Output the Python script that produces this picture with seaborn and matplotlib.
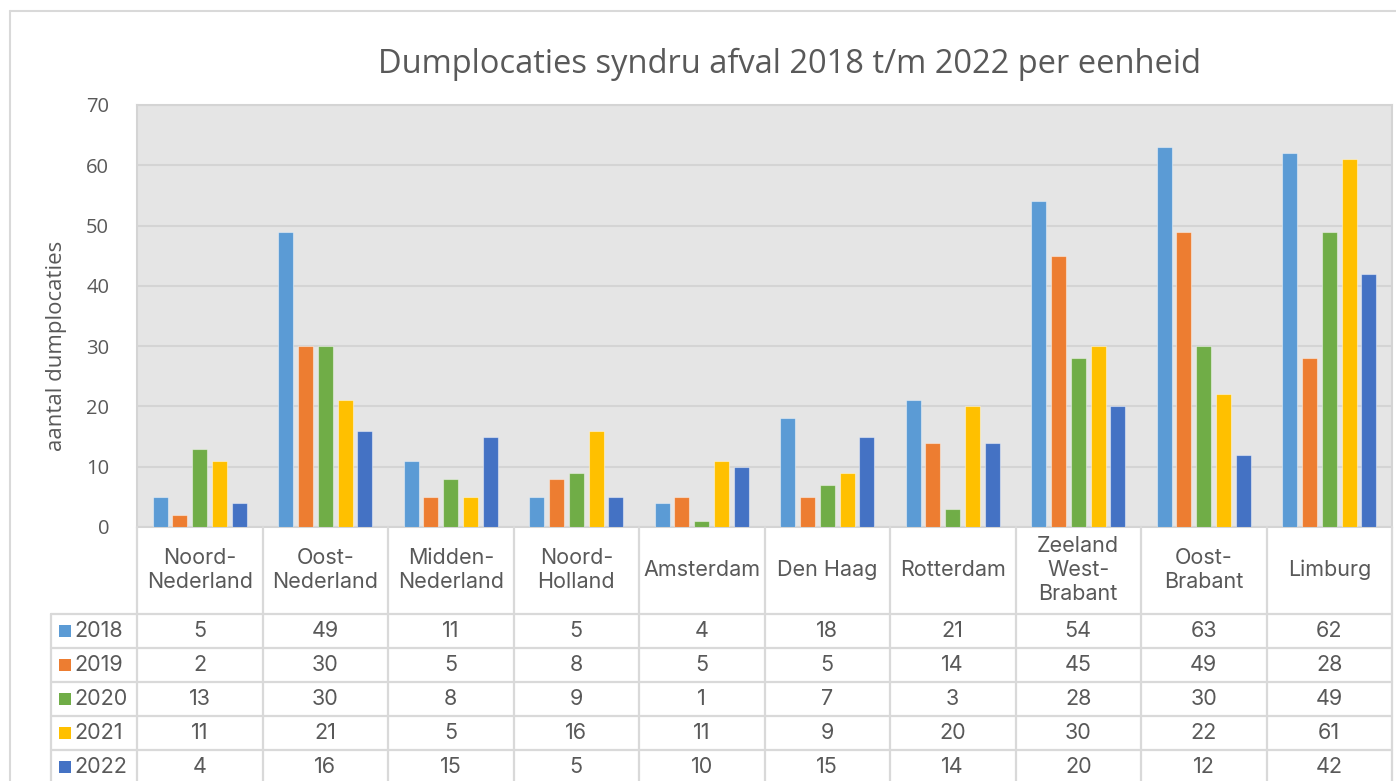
import matplotlib.pyplot as plt
import pandas as pd
import seaborn as sns
from matplotlib.lines import Line2D
from matplotlib.patches import Rectangle
from matplotlib.transforms import blended_transform_factory


REGIONS = [
    "Noord-\nNederland", "Oost-\nNederland", "Midden-\nNederland", "Noord-\nHolland",
    "Amsterdam", "Den Haag", "Rotterdam", "Zeeland\nWest-\nBrabant", "Oost-\nBrabant", "Limburg",
]
YEARS = ["2018", "2019", "2020", "2021", "2022"]
COUNTS_2018 = [5, 49, 11, 5, 4, 18, 21, 54, 63, 62]
COUNTS_2019 = [2, 30, 5, 8, 5, 5, 14, 45, 49, 28]
COUNTS_2020 = [13, 30, 8, 9, 1, 7, 3, 28, 30, 49]
COUNTS_2021 = [11, 21, 5, 16, 11, 9, 20, 30, 22, 61]
COUNTS_2022 = [4, 16, 15, 5, 10, 15, 14, 20, 12, 42]
COLORS = ["#5B9BD5", "#ED7D31", "#70AD47", "#FFC000", "#4472C4"]

W, H = 1396, 781
TEXT = "#595959"
LINE = "#d9d9d9"
TABLE_SIZE = 15.5

sns.set_theme(style="white")
plt.rcParams["font.family"] = ["Open Sans", "DejaVu Sans"]


def fx(px):
    return px / W


def fy(py):
    return 1 - py / H


def build_frame() -> pd.DataFrame:
    series = [COUNTS_2018, COUNTS_2019, COUNTS_2020, COUNTS_2021, COUNTS_2022]
    rows = []
    for year, counts in zip(YEARS, series):
        for region, count in zip(REGIONS, counts):
            rows.append({"region": region, "year": year, "count": count})
    return pd.DataFrame(rows)


def draw_table(fig, ax, df):
    trans = blended_transform_factory(ax.transData, fig.transFigure)
    n = len(REGIONS)
    table_font = ["Inter", "DejaVu Sans"]

    # column separators
    for i in range(n + 1):
        fig.add_artist(Line2D([i - 0.5, i - 0.5], [fy(527), 0], transform=trans, color=LINE, lw=1.6))
    # left border of legend column
    fig.add_artist(Line2D([fx(51), fx(51)], [fy(614), 0], transform=fig.transFigure, color=LINE, lw=1.6))
    right = fig.transFigure.inverted().transform(ax.transData.transform((n - 0.5, 0)))[0]
    for py in [614, 648, 682, 716, 750]:
        fig.add_artist(Line2D([fx(51), right], [fy(py), fy(py)], transform=fig.transFigure, color=LINE, lw=1.6))

    # header with region names
    for i, region in enumerate(REGIONS):
        fig.text(i, fy(570), region, transform=trans, ha="center", va="center",
                 fontsize=TABLE_SIZE, color=TEXT, linespacing=1.25, family=table_font)

    # value rows
    for r, year in enumerate(YEARS):
        cy = 631 + r * 34
        fig.add_artist(Rectangle((fx(59), fy(cy + 6)), fx(12), 12 / H, transform=fig.transFigure,
                                 facecolor=COLORS[r], edgecolor="none"))
        fig.text(fx(74), fy(cy), year, ha="left", va="center", fontsize=TABLE_SIZE, color=TEXT, family=table_font)
        values = df[df["year"] == year].set_index("region").loc[REGIONS, "count"]
        for i, v in enumerate(values):
            fig.text(i, fy(cy), str(v), transform=trans, ha="center", va="center",
                     fontsize=TABLE_SIZE, color=TEXT, family=table_font)


def main() -> None:
    df = build_frame()
    fig = plt.figure(figsize=(W / 100, H / 100), dpi=100)
    ax = fig.add_axes([fx(137), fy(527), fx(1392) - fx(137), fy(105) - fy(527)])
    ax.set_facecolor("#e5e5e5")

    sns.barplot(data=df, x="region", y="count", hue="year", order=REGIONS, hue_order=YEARS,
                palette=COLORS, saturation=1, width=0.79, gap=0.24, ax=ax, legend=False,
                edgecolor=(1, 1, 1, 0.45), linewidth=0.8, zorder=3)

    ax.set_xlim(-0.5, len(REGIONS) - 0.5)
    ax.set_ylim(0, 70)
    ax.set_yticks(range(0, 71, 10))
    ax.yaxis.grid(True, color="#d4d4d4", lw=1.5, zorder=0)
    ax.set_axisbelow(True)
    ax.tick_params(axis="x", bottom=False, labelbottom=False)
    ax.tick_params(axis="y", length=0, pad=20, labelsize=14.5, labelcolor=TEXT)
    ax.set_xlabel("")
    ax.set_ylabel("aantal dumplocaties", fontsize=16, color=TEXT)
    # the axis title sits a little below the middle of the plot area
    ax.yaxis.set_label_coords(-0.056, 0.43)
    for spine in ax.spines.values():
        spine.set_color("#d4d4d4")
        spine.set_linewidth(1.5)

    fig.text(fx(790), fy(64), "Dumplocaties syndru afval 2018 t/m 2022 per eenheid",
             ha="center", va="center", fontsize=23.5, color=TEXT)

    # chart area border
    fig.add_artist(Line2D([fx(10), fx(10)], [0, fy(11)], transform=fig.transFigure, color=LINE, lw=1.5))
    fig.add_artist(Line2D([fx(10), 1], [fy(11), fy(11)], transform=fig.transFigure, color=LINE, lw=1.5))

    draw_table(fig, ax, df)

    fig.savefig("out.png", dpi=100)
    plt.close(fig)


if __name__ == "__main__":
    main()
